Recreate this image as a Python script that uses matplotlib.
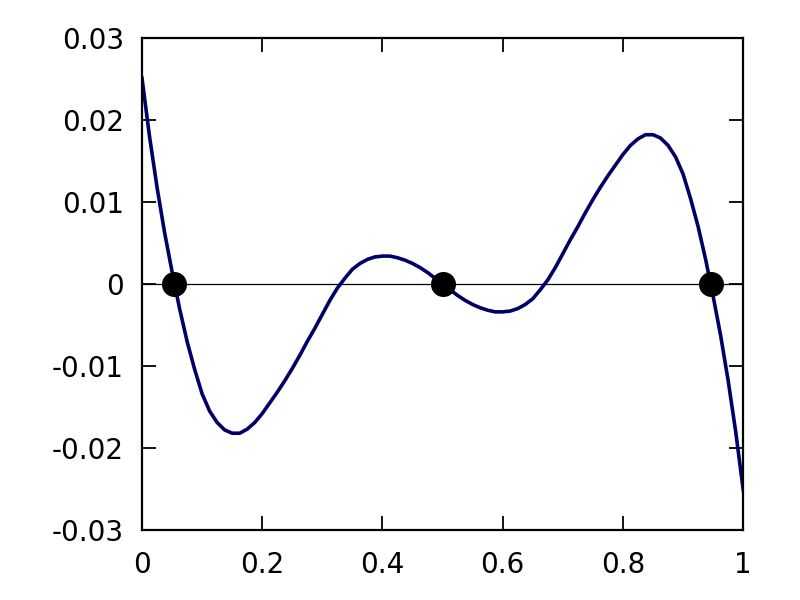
#!/usr/bin/env python3

import matplotlib
matplotlib.use('Agg')

import matplotlib.pyplot as plt
from matplotlib.ticker import FixedLocator, FixedFormatter

## Data ##
x_vals = [0.0000, 0.0125, 0.0250, 0.0375, 0.0500, 0.0625, 0.0750, 0.0875, 0.1000, 0.1125,
          0.1250, 0.1375, 0.1500, 0.1625, 0.1750, 0.1875, 0.2000, 0.2125, 0.2250, 0.2375,
          0.2500, 0.2625, 0.2750, 0.2875, 0.3000, 0.3125, 0.3250, 0.3375, 0.3500, 0.3625,
          0.3750, 0.3875, 0.4000, 0.4125, 0.4250, 0.4375, 0.4500, 0.4625, 0.4750, 0.4875,
          0.5000, 0.5125, 0.5250, 0.5375, 0.5500, 0.5625, 0.5750, 0.5875, 0.6000, 0.6125,
          0.6250, 0.6375, 0.6500, 0.6625, 0.6750, 0.6875, 0.7000, 0.7125, 0.7250, 0.7375,
          0.7500, 0.7625, 0.7750, 0.7875, 0.8000, 0.8125, 0.8250, 0.8375, 0.8500, 0.8625,
          0.8750, 0.8875, 0.9000, 0.9125, 0.9250, 0.9375, 0.9500, 0.9625, 0.9750, 0.9875,
          1.0000]
y_vals = [0.0251, 0.0180, 0.0118, 0.0063, 0.0015, -0.0030, -0.0070, -0.0104, -0.0134, -0.0155,
          -0.0169, -0.0178, -0.0182, -0.0182, -0.0177, -0.0169, -0.0158, -0.0145, -0.0132, -0.0118,
          -0.0103, -0.0087, -0.0070, -0.0054, -0.0037, -0.0020, -0.0005, 0.0007, 0.0018, 0.0025,
          0.0030, 0.0033, 0.0034, 0.0034, 0.0032, 0.0029, 0.0025, 0.0020, 0.0014, 0.0007,
          0.0000, -0.0007, -0.0014, -0.0020, -0.0025, -0.0029, -0.0032, -0.0034, -0.0034, -0.0033,
          -0.0030, -0.0025, -0.0018, -0.0007, 0.0005, 0.0020, 0.0037, 0.0054, 0.0070, 0.0087,
          0.0103, 0.0118, 0.0132, 0.0145, 0.0158, 0.0169, 0.0177, 0.0182, 0.0182, 0.0178,
          0.0169, 0.0155, 0.0134, 0.0104, 0.0070, 0.0030, -0.0015, -0.0063, -0.0118, -0.0180,
          -0.0251]

roots_x = [0.053, 0.5, 0.947]
roots_y = [0.0, 0.0, 0.0]

xticks = [0, 0.2, 0.4, 0.6, 0.8, 1.0]
xtick_labels = ['0', '0.2', '0.4', '0.6', '0.8', '1']
yticks = [-0.03, -0.02, -0.01, 0, 0.01, 0.02, 0.03]
ytick_labels = ['-0.03', '-0.02', '-0.01', '0', '0.01', '0.02', '0.03']

## Setup plot
fig = plt.figure(figsize=(8, 6), dpi=100)
ax = fig.add_axes([0.1775, 0.1167, 0.7515, 0.82])

ax.plot([0, 1], [0, 0], color='black', lw=0.9, zorder=1)
ax.plot(x_vals, y_vals, color='#000066', lw=2.6, solid_joinstyle='round', zorder=2)
ax.plot(roots_x, roots_y, 'o', color='black', markersize=17, zorder=3)

ax.set_xlim(0, 1)
ax.set_ylim(-0.03, 0.03)

ax.xaxis.set_major_locator(FixedLocator(xticks))
ax.xaxis.set_major_formatter(FixedFormatter(xtick_labels))
ax.yaxis.set_major_locator(FixedLocator(yticks))
ax.yaxis.set_major_formatter(FixedFormatter(ytick_labels))

ax.tick_params(axis='both', direction='in', length=10, width=1.3,
               top=True, right=True, labelsize=20, color='black')
ax.tick_params(axis='x', pad=15)
ax.tick_params(axis='y', pad=13)
for s in ax.spines.values():
    s.set_linewidth(1.6)

fig.savefig('out.png', dpi=100)
